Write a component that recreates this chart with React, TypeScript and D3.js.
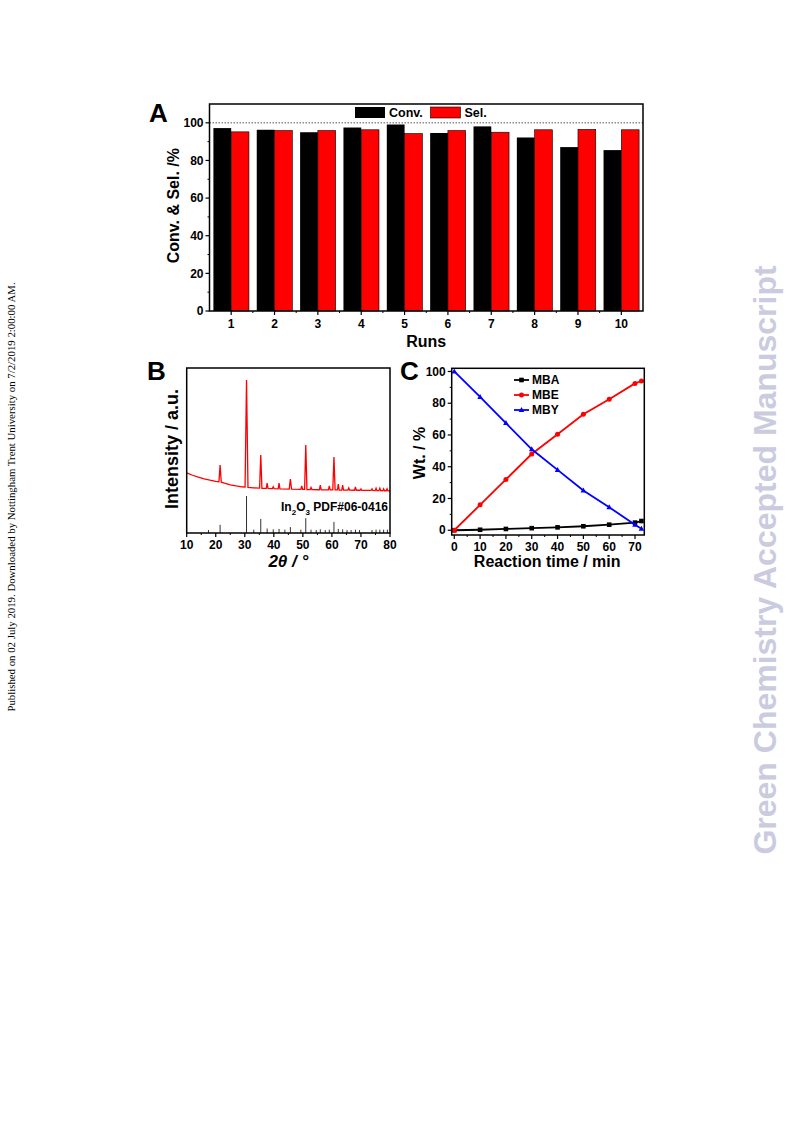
import React from "react";
import * as d3 from "d3";

// ---------- Data ----------
const runs = [1, 2, 3, 4, 5, 6, 7, 8, 9, 10];
const convValues = [97.2, 96.3, 95.0, 97.5, 99.1, 94.6, 98.1, 92.2, 87.1, 85.5];
const selValues = [95.2, 95.9, 95.9, 96.3, 94.3, 95.9, 95.0, 96.3, 96.5, 96.3];
const yTicksA = [0, 20, 40, 60, 80, 100];

const xrdCurve: [number, number][] = [
  [10, 36.4], [12, 35], [14, 33.8], [16, 32.8], [18, 32], [20, 31.3], [21.1, 31], [21.5, 41.2], [21.9, 30.8],
  [23, 30.2], [25, 29.2], [27, 28.5], [29, 28], [30.1, 27.9], [30.6, 92.7], [31.1, 27.6], [33, 27.3],
  [35.1, 27.2], [35.5, 47.3], [35.9, 27.1], [37.4, 27], [37.7, 30.3], [38, 27], [39.5, 26.9], [39.8, 28],
  [40.1, 26.9], [41.5, 26.8], [41.8, 30.3], [42.1, 26.8], [45.3, 26.6], [45.7, 32.7], [46.1, 26.6],
  [49.3, 26.4], [49.6, 28.5], [49.9, 26.4], [50.6, 26.4], [51, 53.3], [51.4, 26.3], [52.5, 26.3],
  [52.8, 27.6], [53.1, 26.3], [55.7, 26.2], [56, 29], [56.3, 26.2], [58.8, 26.1], [59.1, 28.5],
  [59.4, 26.1], [60.3, 26.1], [60.7, 46], [61.1, 26.1], [61.9, 26.1], [62.2, 29.7], [62.5, 26],
  [63.4, 26], [63.7, 29], [64, 26], [65.5, 26], [65.8, 27.3], [66.1, 26], [67.8, 25.9], [68.1, 28],
  [68.4, 25.9], [69.7, 25.9], [70, 26.7], [70.3, 25.9], [73.5, 25.8], [73.8, 26.8], [74.1, 25.8],
  [74.9, 25.7], [75.2, 27.2], [75.5, 25.7], [76.2, 25.7], [76.5, 27.2], [76.8, 25.7], [77.5, 25.6],
  [77.8, 26.8], [78.1, 25.6], [78.7, 25.6], [79, 26.8], [79.3, 25.5], [80, 25.5],
];
const refPositions = [17.5, 21.5, 30.6, 33.1, 35.5, 37.7, 39.8, 41.8, 43.8, 45.7, 49.3, 51.0, 52.8, 54.6, 56.0,
  57.7, 59.1, 60.7, 62.2, 63.7, 65.2, 66.6, 68.1, 69.5, 73.8, 75.2, 76.5, 77.8, 79.1];
const refIntensities = [8, 22, 100, 9, 38, 12, 10, 11, 9, 16, 9, 40, 9, 8, 10, 8, 9, 30, 11, 10, 8, 8, 9, 8, 8, 9, 9, 9, 9];
const xTicksB = [10, 20, 30, 40, 50, 60, 70, 80];

const times = [0, 10, 20, 30, 40, 50, 60, 70, 72.5];
const mba = [0, 0.3, 0.8, 1.3, 1.8, 2.5, 3.5, 4.8, 5.8];
const mbe = [0, 16, 32, 48, 60.5, 73, 82.5, 92.5, 94];
const mby = [100, 84, 67.5, 51, 38, 25, 14.5, 3.5, 1];
const xTicksC = [0, 10, 20, 30, 40, 50, 60, 70];
const yTicksC = [0, 20, 40, 60, 80, 100];

const FONT = "'Liberation Sans', Arial, sans-serif";
const TICK = 12;

function PanelA() {
  const x = d3.scaleLinear().domain([0.5, 10.5]).range([209.5, 643]);
  const y = d3.scaleLinear().domain([0, 110]).range([311, 104]);
  const bw = 0.41;
  const minorY = d3.range(10, 110, 20);
  const minorX = d3.range(1.5, 10.5, 1);
  return (
    <g fontFamily={FONT} fontWeight="bold">
      {runs.map((r, i) => (
        <g key={r}>
          <rect x={x(r - bw)} y={y(convValues[i])} width={x(r) - x(r - bw)} height={y(0) - y(convValues[i])} fill="#000" />
          <rect x={x(r)} y={y(selValues[i])} width={x(r + bw) - x(r)} height={y(0) - y(selValues[i])} fill="#ff0000" stroke="#000" strokeWidth={0.6} />
        </g>
      ))}
      <line x1={x(0.5)} x2={x(10.5)} y1={y(100)} y2={y(100)} stroke="#555" strokeWidth={1} strokeDasharray="1.5,1.5" />
      <rect x={x(0.5)} y={y(110)} width={x(10.5) - x(0.5)} height={y(0) - y(110)} fill="none" stroke="#000" strokeWidth={1.5} />
      {yTicksA.map((t) => (
        <g key={t}>
          <line x1={x(0.5) - 4} x2={x(0.5)} y1={y(t)} y2={y(t)} stroke="#000" strokeWidth={1.2} />
          <text x={x(0.5) - 6} y={y(t)} dy="0.35em" textAnchor="end" fontSize={TICK}>{t}</text>
        </g>
      ))}
      {minorY.map((t) => (
        <line key={t} x1={x(0.5) - 2} x2={x(0.5)} y1={y(t)} y2={y(t)} stroke="#000" strokeWidth={1} />
      ))}
      {runs.map((r) => (
        <g key={r}>
          <line x1={x(r)} x2={x(r)} y1={y(0)} y2={y(0) + 4} stroke="#000" strokeWidth={1.2} />
          <text x={x(r)} y={y(0) + 17} textAnchor="middle" fontSize={TICK}>{r}</text>
        </g>
      ))}
      {minorX.map((t) => (
        <line key={t} x1={x(t)} x2={x(t)} y1={y(0)} y2={y(0) + 2} stroke="#000" strokeWidth={1} />
      ))}
      <text x={(x(0.5) + x(10.5)) / 2} y={347} textAnchor="middle" fontSize={16}>Runs</text>
      <text transform={`translate(179,${y(56)}) rotate(-90)`} textAnchor="middle" fontSize={16}>Conv. &amp; Sel. /%</text>
      {/* legend */}
      <rect x={355} y={107} width={30} height={11} fill="#000" />
      <text x={389} y={117} fontSize={12.5}>Conv.</text>
      <rect x={430.5} y={107} width={30} height={11} fill="#ff0000" stroke="#000" strokeWidth={0.6} />
      <text x={464.5} y={117} fontSize={12.5}>Sel.</text>
      <text x={149} y={122} fontSize={26}>A</text>
    </g>
  );
}

function PanelB() {
  const x = d3.scaleLinear().domain([10, 80]).range([186.7, 390]);
  const y = d3.scaleLinear().domain([0, 100]).range([533, 368]);
  const ys = d3.scaleLinear().domain([0, 100]).range([533, 496]);
  const line = d3.line<[number, number]>().x((d) => x(d[0])).y((d) => y(d[1]));
  const minorX = d3.range(15, 80, 10);
  return (
    <g fontFamily={FONT} fontWeight="bold">
      <path d={line(xrdCurve) || ""} fill="none" stroke="#ff0000" strokeWidth={1.3} />
      {refPositions.map((p, i) => (
        <line key={i} x1={x(p)} x2={x(p)} y1={ys(0)} y2={ys(refIntensities[i])} stroke="#333" strokeWidth={1} />
      ))}
      <rect x={x(10)} y={y(100)} width={x(80) - x(10)} height={y(0) - y(100)} fill="none" stroke="#000" strokeWidth={1.5} />
      {xTicksB.map((t) => (
        <g key={t}>
          <line x1={x(t)} x2={x(t)} y1={y(0)} y2={y(0) + 4} stroke="#000" strokeWidth={1.2} />
          <text x={x(t)} y={y(0) + 16} textAnchor="middle" fontSize={TICK}>{t}</text>
        </g>
      ))}
      {minorX.map((t) => (
        <line key={t} x1={x(t)} x2={x(t)} y1={y(0)} y2={y(0) + 2} stroke="#000" strokeWidth={1} />
      ))}
      <text x={388} y={511} textAnchor="end" fontSize={12}>
        In<tspan fontSize={8} dy={4}>2</tspan><tspan dy={-4}>O</tspan><tspan fontSize={8} dy={4}>3</tspan><tspan dy={-4}> PDF#06-0416</tspan>
      </text>
      <text x={x(45)} y={567} textAnchor="middle" fontSize={17} fontStyle="italic">2θ / °</text>
      <text transform={`translate(178,449) rotate(-90)`} textAnchor="middle" fontSize={18}>Intensity / a.u.</text>
      <text x={147} y={380} fontSize={26}>B</text>
    </g>
  );
}

function PanelC() {
  const x = d3.scaleLinear().domain([-1, 73.6]).range([451.7, 644.3]);
  const y = d3.scaleLinear().domain([-3, 102]).range([535, 368.3]);
  const mk = (vals: number[]) => times.map((t, i) => [t, vals[i]] as [number, number]);
  const line = d3.line<[number, number]>().x((d) => x(d[0])).y((d) => y(d[1]));
  const series = [
    { name: "MBA", data: mk(mba), color: "#000000", shape: "square" },
    { name: "MBE", data: mk(mbe), color: "#ff0000", shape: "circle" },
    { name: "MBY", data: mk(mby), color: "#0000ff", shape: "triangle" },
  ];
  const marker = (shape: string, cx: number, cy: number, color: string, key: any) => {
    if (shape === "square") return <rect key={key} x={cx - 2.3} y={cy - 2.3} width={4.6} height={4.6} fill={color} />;
    if (shape === "circle") return <circle key={key} cx={cx} cy={cy} r={2.5} fill={color} />;
    return <path key={key} d={`M${cx},${cy - 3}L${cx + 2.8},${cy + 2}L${cx - 2.8},${cy + 2}Z`} fill={color} />;
  };
  const minorX = d3.range(5, 75, 10);
  const minorY = d3.range(10, 100, 20);
  const legY = [380, 395, 410];
  return (
    <g fontFamily={FONT} fontWeight="bold">
      {series.map((s) => (
        <g key={s.name}>
          <path d={line(s.data) || ""} fill="none" stroke={s.color} strokeWidth={1.8} />
          {s.data.map((d, i) => marker(s.shape, x(d[0]), y(d[1]), s.color, i))}
        </g>
      ))}
      <rect x={x(-1)} y={y(102)} width={x(73.6) - x(-1)} height={y(-3) - y(102)} fill="none" stroke="#000" strokeWidth={1.5} />
      {yTicksC.map((t) => (
        <g key={t}>
          <line x1={x(-1) - 4} x2={x(-1)} y1={y(t)} y2={y(t)} stroke="#000" strokeWidth={1.2} />
          <text x={x(-1) - 6} y={y(t)} dy="0.35em" textAnchor="end" fontSize={TICK}>{t}</text>
        </g>
      ))}
      {minorY.map((t) => (
        <line key={t} x1={x(-1) - 2} x2={x(-1)} y1={y(t)} y2={y(t)} stroke="#000" strokeWidth={1} />
      ))}
      {xTicksC.map((t) => (
        <g key={t}>
          <line x1={x(t)} x2={x(t)} y1={y(-3)} y2={y(-3) + 4} stroke="#000" strokeWidth={1.2} />
          <text x={x(t)} y={y(-3) + 16} textAnchor="middle" fontSize={TICK}>{t}</text>
        </g>
      ))}
      {minorX.map((t) => (
        <line key={t} x1={x(t)} x2={x(t)} y1={y(-3)} y2={y(-3) + 2} stroke="#000" strokeWidth={1} />
      ))}
      {series.map((s, i) => (
        <g key={s.name}>
          <line x1={514} x2={529} y1={legY[i]} y2={legY[i]} stroke={s.color} strokeWidth={1.8} />
          {marker(s.shape, 521.5, legY[i], s.color, "m")}
          <text x={532} y={legY[i]} dy="0.35em" fontSize={12}>{s.name}</text>
        </g>
      ))}
      <text x={x(36)} y={567} textAnchor="middle" fontSize={16}>Reaction time / min</text>
      <text transform={`translate(425,453) rotate(-90)`} textAnchor="middle" fontSize={16}>Wt. / %</text>
      <text x={400} y={380} fontSize={26}>C</text>
    </g>
  );
}

export default function App() {
  return (
    <svg width={793} height={1121} style={{ position: "absolute", left: 0, top: 0, background: "#fff" }}>
      <rect width={793} height={1121} fill="#fff" />
      <PanelA />
      <PanelB />
      <PanelC />
      <text transform="translate(15,497) rotate(-90)" textAnchor="middle" fontSize={10.8}
        fontFamily="'Liberation Serif', 'Times New Roman', serif">
        Published on 02 July 2019. Downloaded by Nottingham Trent University on 7/2/2019 2:00:00 AM.
      </text>
      <text transform="translate(776,560) rotate(-90)" textAnchor="middle" fontSize={32} fontWeight="bold"
        fontFamily={FONT} fill="#cbcbdf">
        Green Chemistry Accepted Manuscript
      </text>
    </svg>
  );
}
